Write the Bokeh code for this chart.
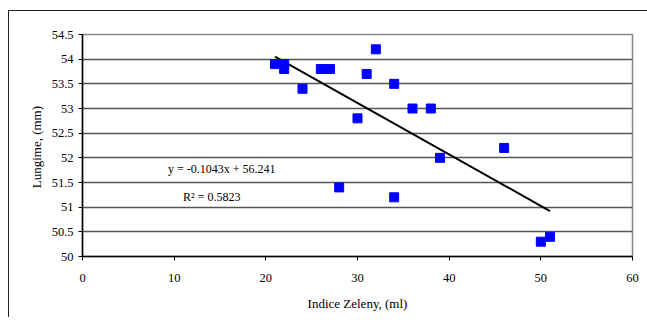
from bokeh.plotting import figure
from bokeh.models import Range1d, FixedTicker
from bokeh.core.properties import value
from bokeh.embed import file_html
from bokeh.resources import INLINE

# Data
zeleny = [21, 22, 22, 24, 26, 27, 28, 30, 31, 32, 34, 34, 36, 38, 39, 46, 50, 51]
lungime = [53.9, 53.8, 53.9, 53.4, 53.8, 53.8, 51.4, 52.8, 53.7, 54.2, 53.5, 51.2, 53.0, 53.0, 52.0, 52.2, 50.3, 50.4]
slope = -0.1043
intercept = 56.241
r2 = 0.5823

x_ticks = [0, 10, 20, 30, 40, 50, 60]
y_ticks = [50, 50.5, 51, 51.5, 52, 52.5, 53, 53.5, 54, 54.5]
y_tick_labels = ["50", "50.5", "51", "51.5", "52", "52.5", "53", "53.5", "54", "54.5"]

FONT = "Liberation Serif"

p = figure(width=639, height=307, output_backend="svg", toolbar_location=None,
           x_range=Range1d(0, 60), y_range=Range1d(50, 54.5),
           min_border_left=73, min_border_right=16, min_border_top=23, min_border_bottom=62)
p.styles = {"margin-left": "8px", "margin-top": "10px",
            "border-top": "1.5px solid #222", "border-left": "1.5px solid #222"}

p.outline_line_color = "#888888"
p.outline_line_width = 1.5
p.xgrid.grid_line_color = None
p.ygrid.grid_line_color = "#555555"
p.ygrid.grid_line_width = 1.5

p.xaxis.ticker = FixedTicker(ticks=x_ticks)
p.yaxis.ticker = FixedTicker(ticks=y_ticks)
p.yaxis.major_label_overrides = {t: l for t, l in zip(y_ticks, y_tick_labels)}
for ax in (p.xaxis, p.yaxis):
    ax.axis_line_color = "black"
    ax.axis_line_width = 1.5
    ax.major_tick_line_color = "black"
    ax.major_tick_in = 0
    ax.major_tick_out = 4
    ax.minor_tick_line_color = None
    ax.major_label_text_font = FONT
    ax.major_label_text_font_size = "12.5px"
    ax.major_label_text_color = "black"
    ax.axis_label_text_font = FONT
    ax.axis_label_text_font_size = "13px"
    ax.axis_label_text_font_style = "normal"
    ax.axis_label_text_color = "black"

p.xaxis.axis_label = "Indice Zeleny, (ml)"
p.yaxis.axis_label = "Lungime,  (mm)"
p.xaxis.major_label_standoff = 13
p.yaxis.major_label_standoff = 5
p.xaxis.axis_label_standoff = 11
p.yaxis.axis_label_standoff = 5

x0, x1 = min(zeleny), max(zeleny)
p.line([x0, x1], [slope * x0 + intercept, slope * x1 + intercept], line_color="black", line_width=2)

p.scatter(zeleny, lungime, marker="square", size=9, fill_color="#0000FF", line_color="#0000FF")

p.text([15.2], [51.78], text=[f"y = {slope}x + {intercept}"], text_font=value(FONT),
       text_font_size="12px", text_align="center", text_baseline="middle", text_color="black")
p.text([14.1], [51.2], text=[f"R\u00b2 = {r2}"], text_font=value(FONT),
       text_font_size="12px", text_align="center", text_baseline="middle", text_color="black")

open("out.html", "w").write(file_html(p, INLINE))
